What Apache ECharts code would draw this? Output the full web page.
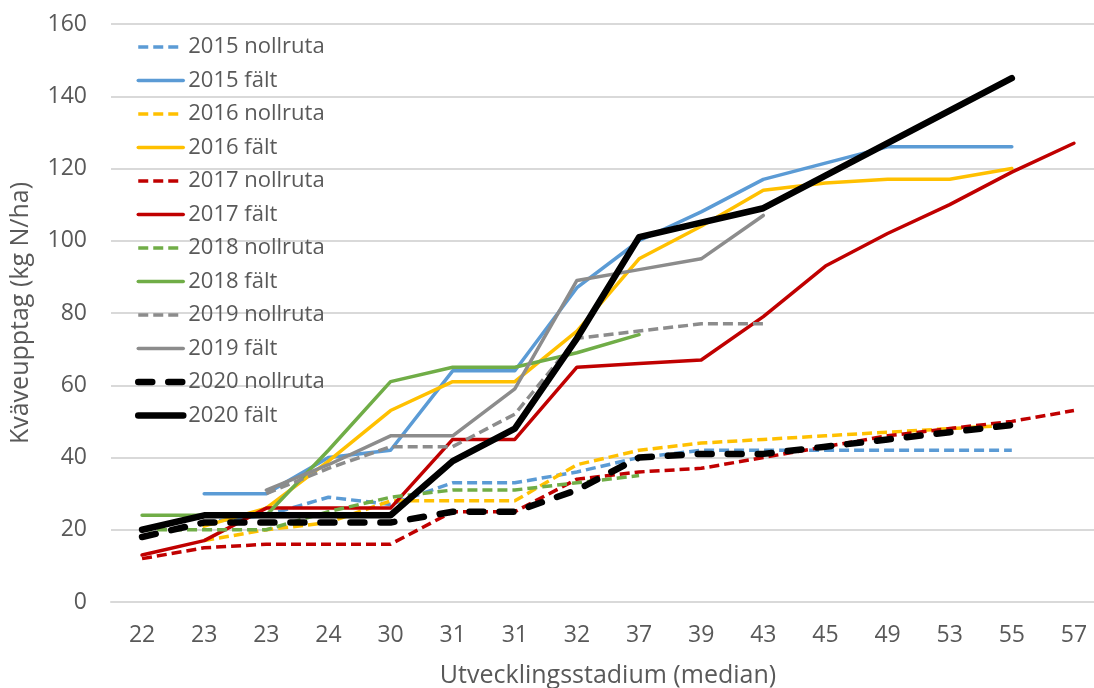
<!DOCTYPE html>
<html>
<head>
<meta charset="utf-8">
<script src="https://cdn.jsdelivr.net/npm/echarts@6/dist/echarts.min.js"></script>
<style>html,body{margin:0;padding:0;background:#fff}#c{width:1094px;height:688px}</style>
</head>
<body>
<div id="c"></div>
<script>
const categories = ['22','23','23','24','30','31','31','32','37','39','43','45','49','53','55','57'];
const yTicks = [0,20,40,60,80,100,120,140,160];

const n2015 = [null,22,24,29,27,33,33,36,40,42,42,42,42,42,42,null];
const f2015 = [null,30,30,40,42,64,64,87,100,108,117,121.5,126,126,126,null];
const n2016 = [null,17,20,22,28,28,28,38,42,44,45,46,47,48,49,null];
const f2016 = [null,21,26,39,53,61,61,75,95,104,114,116,117,117,120,null];
const n2017 = [12,15,16,16,16,25,25,34,36,37,40,43,46,48,50,53];
const f2017 = [13,17,26,26,26,45,45,65,66,67,79,93,102,110,119,127];
const n2018 = [20,20,20,25,29,31,31,33,35,null,null,null,null,null,null,null];
const f2018 = [24,24,24,42,61,65,65,69,74,null,null,null,null,null,null,null];
const n2019 = [null,null,30,37,43,43,52,73,75,77,77,null,null,null,null,null];
const f2019 = [null,null,31,38,46,46,59,89,92,95,107,null,null,null,null,null];
const n2020 = [18,22,22,22,22,25,25,31,40,41,41,43,45,47,49,null];
const f2020 = [20,24,24,24,24,39,48,73,101,105,109,118,127,136,145,null];

const seriesDefs = [
  {name:'2015 nollruta', data:n2015, color:'#5B9BD5', dash:[10,5], w:3.5, cap:'butt'},
  {name:'2015 fält', data:f2015, color:'#5B9BD5', dash:'solid', w:3.5, cap:'round'},
  {name:'2016 nollruta', data:n2016, color:'#FFC000', dash:[10,5], w:3.5, cap:'butt'},
  {name:'2016 fält', data:f2016, color:'#FFC000', dash:'solid', w:3.5, cap:'round'},
  {name:'2017 nollruta', data:n2017, color:'#C00000', dash:[10,5], w:3.5, cap:'butt'},
  {name:'2017 fält', data:f2017, color:'#C00000', dash:'solid', w:3.5, cap:'round'},
  {name:'2018 nollruta', data:n2018, color:'#70AD47', dash:[10,5], w:3.5, cap:'butt'},
  {name:'2018 fält', data:f2018, color:'#70AD47', dash:'solid', w:3.5, cap:'round'},
  {name:'2019 nollruta', data:n2019, color:'#8C8C8C', dash:[10,5], w:3.5, cap:'butt'},
  {name:'2019 fält', data:f2019, color:'#8C8C8C', dash:'solid', w:3.5, cap:'round'},
  {name:'2020 nollruta', data:n2020, color:'#000000', dash:[14,16], w:6.5, cap:'round'},
  {name:'2020 fält', data:f2020, color:'#000000', dash:'solid', w:6.5, cap:'round'}
];

const font = '"Open Sans", Lato, sans-serif';
const txt = '#595959';

const chart = echarts.init(document.getElementById('c'), null, {renderer:'canvas'});
chart.setOption({
  animation:false,
  backgroundColor:'#ffffff',
  textStyle:{fontFamily:font},
  grid:{left:111, right:-11, top:24, bottom:86, containLabel:false, outerBoundsMode:'none'},
  legend:{
    orient:'vertical', left:130, top:31,
    itemWidth:45, itemHeight:20, itemGap:11.5,
    itemStyle:{color:'transparent', borderColor:'transparent', borderWidth:0},
    lineStyle:{width:'inherit'},
    textStyle:{color:txt, fontSize:22, fontFamily:font, lineHeight:20},
    data: seriesDefs.map(s=>s.name)
  },
  xAxis:{
    type:'category', data:categories, boundaryGap:true,
    name:'Utvecklingsstadium (median)', nameLocation:'middle', nameGap:61,
    nameTextStyle:{color:txt, fontSize:25, fontFamily:font},
    axisLine:{show:true, lineStyle:{color:'#D9D9D9', width:2}},
    axisTick:{show:false},
    axisLabel:{color:txt, fontSize:23, fontFamily:font, margin:22, interval:0}
  },
  yAxis:{
    type:'value', min:yTicks[0], max:yTicks[yTicks.length-1], interval:20,
    name:'Kväveupptag (kg N/ha)', nameLocation:'middle', nameGap:78,
    nameTextStyle:{color:txt, fontSize:25, fontFamily:font},
    axisLine:{show:false}, axisTick:{show:false},
    axisLabel:{color:txt, fontSize:23, fontFamily:font, margin:24},
    splitLine:{lineStyle:{color:'#D9D9D9', width:2}}
  },
  series: seriesDefs.map(s=>({
    name:s.name, type:'line', data:s.data, symbol:'none', smooth:false,
    color:s.color,
    lineStyle:{color:s.color, width:s.w, type:s.dash, cap:s.cap, join:'round'},
    itemStyle:{color:s.color}
  }))
});
</script>
</body>
</html>
